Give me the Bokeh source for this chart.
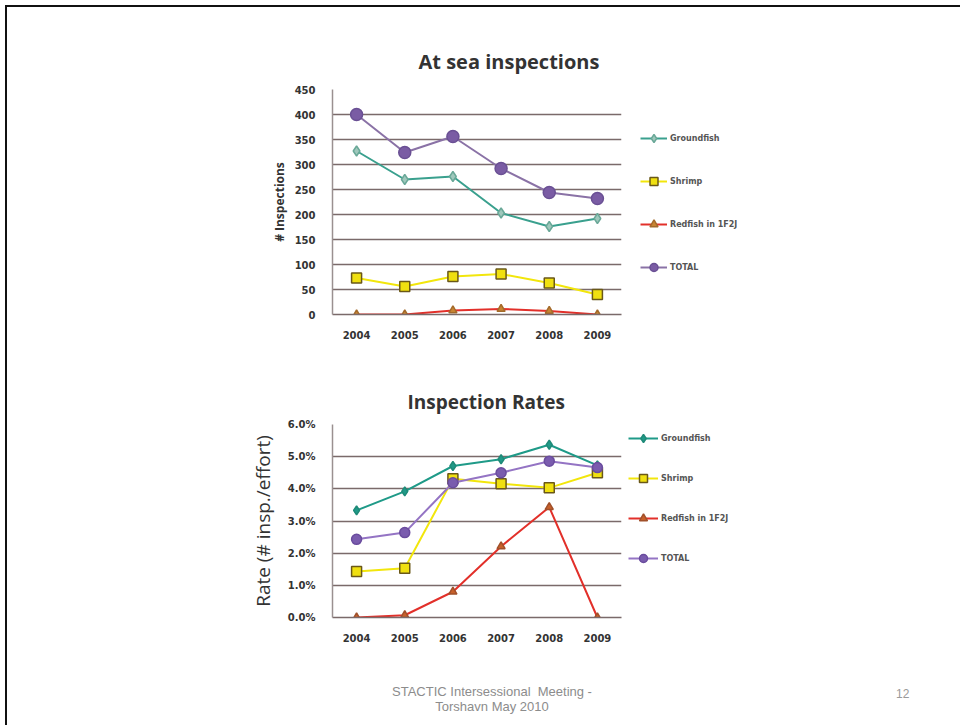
from bokeh.plotting import figure
from bokeh.models import (Legend, LegendItem, Range1d, FactorRange, PrintfTickFormatter,
                          Title, Div, SingleIntervalTicker, BasicTickFormatter)
from bokeh.layouts import column
from bokeh.embed import file_html
from bokeh.resources import INLINE

# ---------------- data ----------------
years = ["2004", "2005", "2006", "2007", "2008", "2009"]
series_names = ["Groundfish", "Shrimp", "Redfish in 1F2J", "TOTAL"]

sea_groundfish = [327, 270, 276, 203, 176, 192]
sea_shrimp = [73, 56, 76, 81, 63, 40]
sea_redfish = [0, 0, 8, 11, 7, 0]
sea_total = [400, 324, 356, 292, 244, 232]

rate_groundfish = [3.33, 3.92, 4.71, 4.92, 5.37, 4.73]   # percent
rate_shrimp = [1.43, 1.53, 4.31, 4.16, 4.03, 4.50]
rate_redfish = [0.00, 0.07, 0.80, 2.21, 3.43, 0.00]
rate_total = [2.43, 2.64, 4.19, 4.50, 4.86, 4.66]

top_title = "At  sea inspections"
bottom_title = "Inspection Rates"
top_ylabel = "# Inspections"
bottom_ylabel = "Rate (# insp./effort)"
footer_line1 = "STACTIC Intersessional&nbsp; Meeting -"
footer_line2 = "Torshavn May 2010"
page_number = "12"

GRID = "#7a6a6a"
TICK_FONT = "DejaVu Sans"
FIG_W = 953

styles_top = [
    dict(line="#3aa08e", marker="diamond", fill="#9fc8bc", mline="#6aa898", size=10),
    dict(line="#f2e60c", marker="square", fill="#f0e010", mline="#6a5818", size=10),
    dict(line="#e2302a", marker="triangle", fill="#c88432", mline="#a46a2a", size=8),
    dict(line="#8a72a6", marker="circle", fill="#7a5ca4", mline="#6a5094", size=12),
]
styles_bot = [
    dict(line="#1f9a88", marker="diamond", fill="#1f9a88", mline="#1f8a78", size=9),
    dict(line="#f2e60c", marker="square", fill="#f0e010", mline="#6a5818", size=10),
    dict(line="#e2302a", marker="triangle", fill="#c8602a", mline="#a0502a", size=8),
    dict(line="#9474c4", marker="circle", fill="#7a5cae", mline="#6a4c9e", size=10),
]


def make_chart(values, styles, ymax, ystep, frame_h, border_top, border_bottom,
               title, title_size, title_offset, title_standoff,
               ylabel, ylabel_style, ylabel_size, ylabel_standoff,
               legend_loc, legend_spacing, glyph_w, fmt):
    p = figure(x_range=FactorRange(*years), y_range=Range1d(0, ymax),
               frame_width=289, frame_height=frame_h,
               min_border_left=325, min_border_right=FIG_W - 325 - 289,
               min_border_top=border_top, min_border_bottom=border_bottom,
               output_backend="svg", toolbar_location=None)
    p.title = Title(text=title, align="left", offset=title_offset, standoff=title_standoff,
                    text_font="Open Sans", text_font_size=title_size, text_font_style="bold",
                    text_color="#333333")
    p.outline_line_color = None
    p.background_fill_color = "white"
    p.border_fill_color = "white"
    p.xgrid.grid_line_color = None
    p.ygrid.grid_line_color = GRID
    p.ygrid.grid_line_width = 1.5
    p.yaxis.ticker = SingleIntervalTicker(interval=ystep)
    p.yaxis.formatter = fmt
    for ax in (p.xaxis, p.yaxis):
        ax.major_tick_line_color = None
        ax.minor_tick_line_color = None
        ax.major_label_text_font = TICK_FONT
        ax.major_label_text_font_size = "10px"
        ax.major_label_text_font_style = "bold"
        ax.major_label_text_color = "#333333"
    p.xaxis.axis_line_color = GRID
    p.xaxis.axis_line_width = 1.5
    p.xaxis.major_label_standoff = 10
    p.yaxis.axis_line_color = "#9a9090"
    p.yaxis.axis_line_width = 1.5
    p.yaxis.major_label_standoff = 11
    p.yaxis.axis_label = ylabel
    p.yaxis.axis_label_text_font = "Open Sans"
    p.yaxis.axis_label_text_font_size = ylabel_size
    p.yaxis.axis_label_text_font_style = ylabel_style
    p.yaxis.axis_label_text_color = "#333333"
    p.yaxis.axis_label_standoff = ylabel_standoff

    items = []
    for name, vals, st in zip(series_names, values, styles):
        ln = p.line(years, vals, line_color=st["line"], line_width=2)
        sc = p.scatter(years, vals, marker=st["marker"], size=st["size"],
                       fill_color=st["fill"], line_color=st["mline"], line_width=1.5)
        items.append(LegendItem(label=name, renderers=[ln, sc]))

    lg = Legend(items=items, location=legend_loc, padding=0, margin=0,
                spacing=legend_spacing, glyph_width=glyph_w, glyph_height=20,
                label_height=20, label_standoff=3,
                label_text_font=TICK_FONT, label_text_font_size="8px",
                label_text_font_style="bold", label_text_color="#555555",
                background_fill_alpha=0, border_line_color=None)
    p.add_layout(lg, "right")
    return p


top = make_chart([sea_groundfish, sea_shrimp, sea_redfish, sea_total], styles_top,
                 450, 50, 225, 82, 56, top_title, "20px", 86, 30,
                 top_ylabel, "bold", "12px", 4,
                 (19, 37), 23, 27, BasicTickFormatter())

bot = make_chart([rate_groundfish, rate_shrimp, rate_redfish, rate_total], styles_bot,
                 6.0, 1.0, 193, 54, 33, bottom_title, "19px", 75, 20,
                 bottom_ylabel, "normal", "19px", 9,
                 (7, 49), 20, 30, PrintfTickFormatter(format="%.1f%%"))

footer = Div(text=(
    '<div style="position:relative;width:' + str(FIG_W) + 'px;height:70px;'
    'font-family:Liberation Sans,Arial;color:#8c8c8c;">'
    '<div style="position:absolute;left:330px;width:300px;top:29px;text-align:center;'
    'font-size:13px;line-height:15px;">' + footer_line1 + '<br>' + footer_line2 + '</div>'
    '<div style="position:absolute;left:884px;top:31px;font-size:12px;color:#9a9a9a;">'
    + page_number + '</div></div>'), width=FIG_W, height=70)

layout = column(top, bot, footer, spacing=0,
                styles={"border-top": "2px solid #111", "border-left": "2px solid #111",
                        "margin-left": "5px", "margin-top": "5px"})

open("out.html", "w").write(file_html(layout, INLINE))
